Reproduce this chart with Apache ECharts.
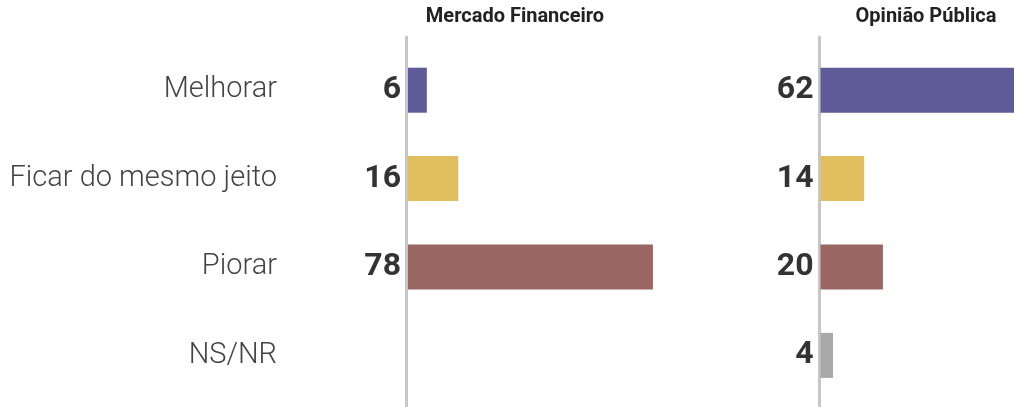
<!DOCTYPE html>
<html>
<head>
<meta charset="utf-8">
<script src="https://cdn.jsdelivr.net/npm/echarts@6/dist/echarts.min.js"></script>
<style>
  html, body { margin: 0; padding: 0; background: #fff; }
  #main { width: 1014px; height: 407px; }
</style>
</head>
<body>
<div id="main"></div>
<script>
const categories = ["Melhorar", "Ficar do mesmo jeito", "Piorar", "NS/NR"];
const mercadoValues = [6, 16, 78, null];
const opiniaoValues = [62, 14, 20, 4];
const panelTitles = ["Mercado Financeiro", "Opinião Pública"];

// one colour per answer
const barColors = ["#5f5b98", "#e2bf5e", "#9a6662", "#a9a9a9"];

const chart = echarts.init(document.getElementById("main"));

function barSeries(values, axisIndex) {
  return {
    type: "bar",
    xAxisIndex: axisIndex,
    yAxisIndex: axisIndex,
    barWidth: 45,
    data: values.map((v, i) => ({ value: v, itemStyle: { color: barColors[i] } })),
    label: {
      show: true,
      position: "left",
      distance: 7,
      color: "#333",
      fontFamily: "Roboto",
      fontWeight: "bold",
      fontSize: 32,
    },
    silent: true,
  };
}

const titleStyle = { fontFamily: "Roboto", fontWeight: "bold", fontSize: 20, color: "#222" };

chart.setOption({
  animation: false,
  title: [
    { text: panelTitles[0], left: 510, top: 2, textAlign: "center", textStyle: titleStyle },
    { text: panelTitles[1], left: 921, top: 2, textAlign: "center", textStyle: titleStyle },
  ],
  grid: [
    { left: 408, top: 46, height: 353.6, width: 314 },
    { left: 820.5, top: 46, height: 353.6, width: 193.5 },
    // grids only used for the tall baseline rules
    { left: 406.5, top: 37, bottom: 0, width: 10 },
    { left: 819, top: 37, bottom: 0, width: 10 },
  ],
  xAxis: [
    { gridIndex: 0, type: "value", min: 0, max: 100, show: false },
    { gridIndex: 1, type: "value", min: 0, max: 62, show: false },
    { gridIndex: 2, type: "value", min: 0, max: 1, show: false },
    { gridIndex: 3, type: "value", min: 0, max: 1, show: false },
  ],
  yAxis: [
    {
      gridIndex: 0,
      type: "category",
      inverse: true,
      data: categories,
      axisLine: { show: false },
      axisTick: { show: false },
      axisLabel: {
        margin: 131,
        color: "#444",
        fontFamily: "Roboto",
        fontWeight: 300,
        fontSize: 29,
      },
    },
    {
      gridIndex: 1,
      type: "category",
      inverse: true,
      data: categories,
      axisLine: { show: false },
      axisTick: { show: false },
      axisLabel: { show: false },
    },
    {
      gridIndex: 2,
      type: "value",
      axisLine: { show: true, lineStyle: { color: "#c6c6c6", width: 3 } },
      axisTick: { show: false },
      axisLabel: { show: false },
      splitLine: { show: false },
    },
    {
      gridIndex: 3,
      type: "value",
      axisLine: { show: true, lineStyle: { color: "#c6c6c6", width: 3 } },
      axisTick: { show: false },
      axisLabel: { show: false },
      splitLine: { show: false },
    },
  ],
  series: [barSeries(mercadoValues, 0), barSeries(opiniaoValues, 1)],
});
</script>
</body>
</html>
